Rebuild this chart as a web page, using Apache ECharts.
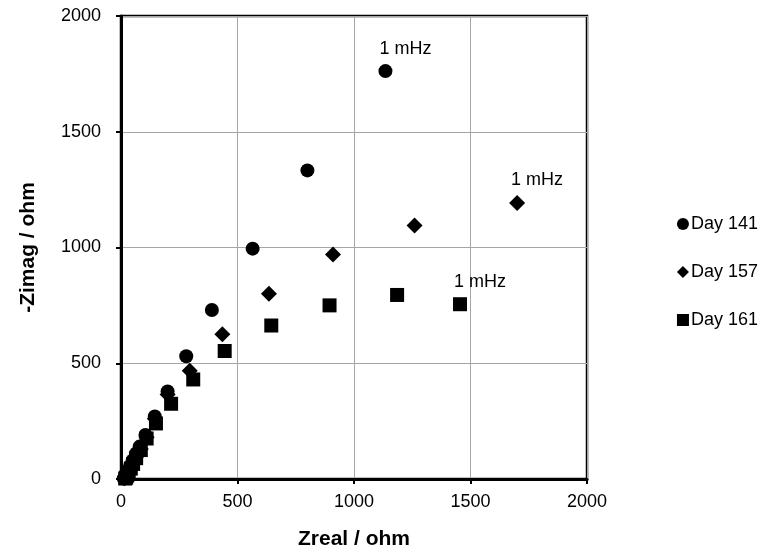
<!DOCTYPE html>
<html><head><meta charset="utf-8">
<script src="https://cdn.jsdelivr.net/npm/echarts@6/dist/echarts.min.js"></script>
<style>html,body{margin:0;padding:0;background:#fff}#c{width:767px;height:557px}</style>
</head><body><div id="c"></div>
<script>
const seriesNames = ['Day 141', 'Day 157', 'Day 161'];
const day141X = [12, 15, 20, 25, 30, 40, 50, 65, 80, 105, 145, 200, 280, 390, 565, 800, 1135];
const day141Y = [2, 5, 10, 20, 35, 55, 80, 110, 140, 190, 270, 378, 530, 730, 995, 1333, 1762];
const day157X = [15, 20, 25, 30, 40, 50, 65, 85, 110, 145, 200, 295, 435, 635, 910, 1260, 1700];
const day157Y = [3, 8, 18, 30, 50, 70, 95, 130, 180, 260, 365, 468, 625, 800, 970, 1095, 1192];
const day161X = [18, 22, 27, 33, 42, 52, 65, 85, 110, 150, 215, 310, 445, 645, 895, 1185, 1455];
const day161Y = [2, 6, 15, 28, 45, 65, 90, 125, 175, 240, 325, 430, 553, 663, 750, 795, 755];
const annotText = '1 mHz';
const annotIndex = [16, 16, 16];
const xTicks = [0, 500, 1000, 1500, 2000];
const yTicks = [0, 500, 1000, 1500, 2000];

const xs = [day141X, day157X, day161X];
const ys = [day141Y, day157Y, day161Y];
const symbols = ['circle', 'diamond', 'rect'];
const sizes = [14, 16, 14];
const font = '"Liberation Sans", Arial, sans-serif';

const series = seriesNames.map((name, s) => ({
  name: name,
  type: 'scatter',
  symbol: symbols[s],
  symbolSize: sizes[s],
  itemStyle: { color: '#000', opacity: 1 },
  emphasis: { disabled: true },
  data: xs[s].map((x, i) => {
    const item = { value: [x, ys[s][i]] };
    if (i === annotIndex[s]) {
      item.label = {
        show: true, formatter: annotText, position: 'top',
        offset: [20, -1], color: '#000', fontSize: 18, fontFamily: font
      };
    }
    return item;
  })
}));

const chart = echarts.init(document.getElementById('c'), null, { renderer: 'canvas' });
chart.setOption({
  animation: false,
  backgroundColor: '#fff',
  grid: { left: 121, right: 180, top: 16, bottom: 78, show: true, borderColor: '#000', borderWidth: 2.5 },
  legend: {
    orient: 'vertical', right: 4, top: 210,
    itemGap: 30, itemWidth: 12, itemHeight: 12,
    textStyle: { color: '#000', fontSize: 18, fontFamily: font, padding: [0, 0, 0, -3] },
    data: seriesNames.map((n, s) => ({ name: n, icon: symbols[s] }))
  },
  xAxis: {
    type: 'value', min: xTicks[0], max: xTicks[xTicks.length - 1], interval: 500,
    name: 'Zreal / ohm', nameLocation: 'middle', nameGap: 50,
    nameTextStyle: { color: '#000', fontSize: 21, fontWeight: 'bold', fontFamily: font },
    axisLine: { show: true, lineStyle: { color: '#000', width: 3 } },
    axisTick: { show: true, length: 5, inside: false, lineStyle: { color: '#000', width: 2 } },
    axisLabel: { color: '#000', fontSize: 18, fontFamily: font, margin: 14, formatter: v => String(v) },
    splitLine: { show: true, lineStyle: { color: '#a6a6a6', width: 1 } }
  },
  yAxis: {
    type: 'value', min: yTicks[0], max: yTicks[yTicks.length - 1], interval: 500,
    name: '-Zimag / ohm', nameLocation: 'middle', nameGap: 82, nameRotate: 90,
    nameTextStyle: { color: '#000', fontSize: 21, fontWeight: 'bold', fontFamily: font },
    axisLine: { show: true, lineStyle: { color: '#000', width: 3 } },
    axisTick: { show: true, length: 5, inside: false, lineStyle: { color: '#000', width: 2 } },
    axisLabel: { color: '#000', fontSize: 18, fontFamily: font, margin: 20, formatter: v => String(v) },
    splitLine: { show: true, lineStyle: { color: '#a6a6a6', width: 1 } }
  },
  series: series
});
</script>
</body></html>
